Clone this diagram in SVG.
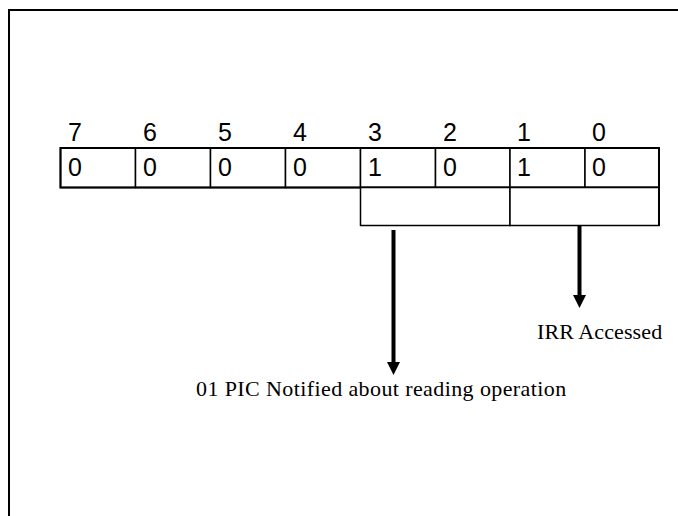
<svg xmlns="http://www.w3.org/2000/svg" width="678" height="516" viewBox="0 0 678 516">
<style>
.frame{fill:none;stroke:#000;stroke-width:2}
.cell{fill:#fff;stroke:#000;stroke-width:1.5}
.num{font-family:"Liberation Sans",Arial,sans-serif;font-size:25px;fill:#000}
.lbl{font-family:"Liberation Serif","Times New Roman",serif;font-size:22px;letter-spacing:0.4px;fill:#000}
.shaft{stroke:#000;stroke-width:4;fill:none}
</style>
<defs>
<marker id="ah" markerWidth="13" markerHeight="13" refX="1" refY="6.5" orient="auto" markerUnits="userSpaceOnUse">
<path d="M0,0 L13,6.5 L0,13 Z" fill="#000"/>
</marker>
</defs>
<rect width="678" height="516" fill="#fff"/>
<path class="frame" d="M9,518 V10 H680"/>
<g id="bit-labels">
<text class="num" x="68" y="141">7</text>
<text class="num" x="143" y="141">6</text>
<text class="num" x="218" y="141">5</text>
<text class="num" x="293" y="141">4</text>
<text class="num" x="368" y="141">3</text>
<text class="num" x="443" y="141">2</text>
<text class="num" x="517" y="141">1</text>
<text class="num" x="592" y="141">0</text>
</g>
<g id="register">
<rect class="cell" x="60.5" y="148" width="75" height="39.5"/>
<rect class="cell" x="135.5" y="148" width="75" height="39.5"/>
<rect class="cell" x="210.5" y="148" width="75" height="39.5"/>
<rect class="cell" x="285.5" y="148" width="75" height="39.5"/>
<rect class="cell" x="360.5" y="148" width="75" height="39.5"/>
<rect class="cell" x="435.5" y="148" width="74.5" height="39.5"/>
<rect class="cell" x="510" y="148" width="75" height="39.5"/>
<rect class="cell" x="585" y="148" width="74" height="39.5"/>
<rect x="60.5" y="148" width="598.5" height="39.5" fill="none" stroke="#000" stroke-width="2"/>
<text class="num" x="68" y="176">0</text>
<text class="num" x="143" y="176">0</text>
<text class="num" x="218" y="176">0</text>
<text class="num" x="293" y="176">0</text>
<text class="num" x="368" y="176">1</text>
<text class="num" x="443" y="176">0</text>
<text class="num" x="517" y="176">1</text>
<text class="num" x="592" y="176">0</text>
</g>
<g id="group-32">
<rect class="cell" x="360.5" y="187.5" width="149.5" height="38"/>
</g>
<g id="group-10">
<rect class="cell" x="510" y="187.5" width="149" height="38"/>
<line x1="659" y1="187" x2="659" y2="226" stroke="#000" stroke-width="2"/>
</g>
<g id="connectors">
<line class="shaft" x1="393.5" y1="230" x2="393.5" y2="363" marker-end="url(#ah)"/>
<line class="shaft" x1="579.5" y1="226" x2="579.5" y2="296" marker-end="url(#ah)"/>
</g>
<g id="label-irr">
<text class="lbl" x="537" y="339" style="letter-spacing:0.1px">IRR Accessed</text>
</g>
<g id="label-pic">
<text class="lbl" x="196" y="396">01 PIC Notified about reading operation</text>
</g>
</svg>
